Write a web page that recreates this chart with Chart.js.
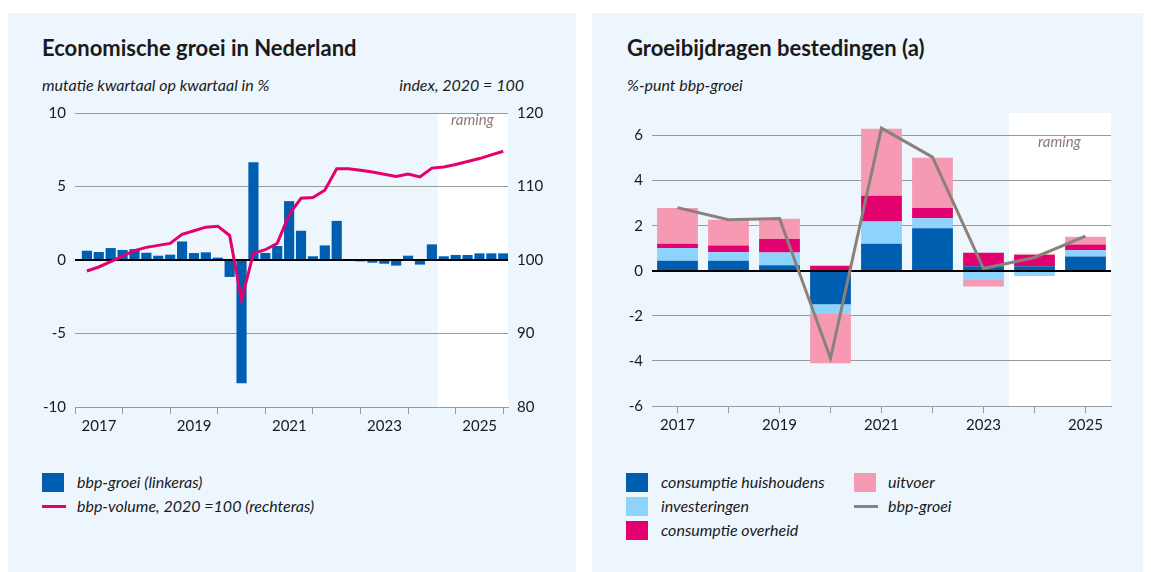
<!DOCTYPE html>
<html>
<head>
<meta charset="utf-8">
<title>Economische groei in Nederland</title>
<script src="https://cdn.jsdelivr.net/npm/chart.js@4"></script>
<style>
  body { margin: 0; width: 1151px; height: 572px; background: #fff; overflow: hidden;
         font-family: Lato, "Noto Sans", sans-serif; color: #1a1a1a; }
  .panel { position: absolute; top: 13px; height: 559px; background: #edf6fd; }
  .abs { position: absolute; white-space: nowrap; }
  .title { font-size: 22px; font-weight: bold; line-height: 26px; }
  .sub { font-size: 16px; font-style: italic; line-height: 18px; }
  .raming { font-size: 15px; font-style: italic; color: #8d7b76; line-height: 16px; }
  .leg { font-size: 16px; font-style: italic; line-height: 18px; }
  .sq { position: absolute; width: 22px; height: 19px; }
  .ln { position: absolute; width: 24px; height: 3px; }
  canvas { position: absolute; }
</style>
</head>
<body>
<div class="panel" style="left:8px; width:568px;"></div>
<div class="panel" style="left:592px; width:551px;"></div>

<div class="abs title" style="left:42px; top:35px;">Economische groei in Nederland</div>
<div class="abs sub" style="left:42px; top:76px;">mutatie kwartaal op kwartaal in %</div>
<div class="abs sub" style="right:627px; top:76px;">index, 2020 = 100</div>

<div class="abs title" style="left:627px; top:35px;">Groeibijdragen bestedingen (a)</div>
<div class="abs sub" style="left:627px; top:76px;">%-punt bbp-groei</div>

<canvas id="links" width="568" height="342" style="left:8px; top:95px;"></canvas>
<canvas id="rechts" width="551" height="341" style="left:592px; top:95px;"></canvas>

<div class="abs raming" style="left:451px; top:111px;">raming</div>
<div class="abs raming" style="left:1038px; top:133px;">raming</div>

<!-- legenda links -->
<div class="sq" style="left:42px; top:473px; background:#005eb0;"></div>
<div class="abs leg" style="left:77px; top:473px;">bbp-groei (linkeras)</div>
<div class="ln" style="left:42px; top:505px; background:#e3006f;"></div>
<div class="abs leg" style="left:77px; top:497px;">bbp-volume, 2020 =100 (rechteras)</div>

<!-- legenda rechts -->
<div class="sq" style="left:626px; top:473px; background:#005eb0;"></div>
<div class="abs leg" style="left:661px; top:473px;">consumptie huishoudens</div>
<div class="sq" style="left:626px; top:497px; background:#8dd3fc;"></div>
<div class="abs leg" style="left:661px; top:497px;">investeringen</div>
<div class="sq" style="left:626px; top:521px; background:#e3006f;"></div>
<div class="abs leg" style="left:661px; top:521px;">consumptie overheid</div>
<div class="sq" style="left:854px; top:473px; background:#f59ab2;"></div>
<div class="abs leg" style="left:888px; top:473px;">uitvoer</div>
<div class="ln" style="left:854px; top:505px; background:#8c807b;"></div>
<div class="abs leg" style="left:888px; top:497px;">bbp-groei</div>

<script>
// kwartaalcijfers 2017K1 t/m 2025K4
const bbpGroei = [0.61, 0.52, 0.79, 0.66, 0.72, 0.47, 0.27, 0.34, 1.24, 0.45, 0.50, 0.14,
                  -1.13, -8.36, 6.62, 0.46, 0.93, 3.98, 1.97, 0.23, 0.97, 2.64, 0.02, -0.07,
                  -0.16, -0.23, -0.36, 0.27, -0.29, 1.04, 0.23, 0.32, 0.32, 0.43, 0.43, 0.43];
const bbpVolume = [98.5, 99.05, 99.77, 100.54, 101.27, 101.72, 101.99, 102.26, 103.5, 103.98, 104.47, 104.6,
                   103.34, 94.6, 100.9, 101.4, 102.26, 106.2, 108.4, 108.5, 109.5, 112.4, 112.4, 112.2,
                   111.98, 111.66, 111.35, 111.7, 111.3, 112.5, 112.66, 113.0, 113.4, 113.8, 114.3, 114.8];
const jaarLabels = ['2017', '2019', '2021', '2023', '2025'];

// jaarcijfers
const jaren = ['2017', '2018', '2019', '2020', '2021', '2022', '2023', '2024', '2025'];
const consHuishoudens = [0.44, 0.44, 0.25, -1.48, 1.20, 1.89, 0.20, 0.20, 0.63];
const investeringen = [0.57, 0.38, 0.56, -0.40, 0.99, 0.44, -0.38, -0.23, 0.28];
const consOverheid = [0.19, 0.30, 0.60, 0.22, 1.14, 0.45, 0.60, 0.50, 0.26];
const uitvoer = [1.58, 1.14, 0.90, -2.22, 2.97, 2.23, -0.32, 0.06, 0.34];
const bbpGroeiJaar = [2.80, 2.26, 2.32, -3.88, 6.33, 5.04, 0.10, 0.59, 1.54];

const tickFont = { family: 'Lato, "Noto Sans", sans-serif', size: 15 };
const gridKleur = '#9a9a9a';

// witte achtergrond voor de raming + nullijn boven de staven
const ramingPlugin = {
  id: 'raming',
  beforeDraw(chart, args, opts) {
    const { ctx, chartArea, scales } = chart;
    const x0 = scales.x.getPixelForValue(opts.vanaf);
    ctx.save();
    ctx.fillStyle = '#ffffff';
    ctx.fillRect(x0, chartArea.top, chartArea.right - x0, chartArea.bottom - chartArea.top);
    ctx.restore();
  },
  beforeDatasetDraw(chart, args) {
    if (args.meta.type !== 'line') return;
    const { ctx, chartArea, scales } = chart;
    const y0 = Math.round(scales.y.getPixelForValue(0));
    ctx.save();
    ctx.strokeStyle = '#000';
    ctx.lineWidth = 2;
    ctx.beginPath();
    ctx.moveTo(chartArea.left, y0);
    ctx.lineTo(chartArea.right, y0);
    ctx.stroke();
    ctx.restore();
  }
};

new Chart(document.getElementById('links'), {
  type: 'bar',
  plugins: [ramingPlugin],
  data: {
    datasets: [
      {
        type: 'line',
        label: 'bbp-volume, 2020 =100 (rechteras)',
        data: bbpVolume.map((v, i) => ({ x: i + 1, y: v })),
        yAxisID: 'y2',
        borderColor: '#e3006f',
        borderWidth: 3,
        pointRadius: 0,
        tension: 0,
        order: 0
      },
      {
        label: 'bbp-groei (linkeras)',
        data: bbpGroei.map((v, i) => ({ x: i + 1, y: v })),
        backgroundColor: '#005eb0',
        barThickness: 9.5,
        order: 1
      }
    ]
  },
  options: {
    responsive: false,
    animation: false,
    layout: { padding: { top: 17, left: 0, right: 0, bottom: 0 } },
    plugins: { legend: { display: false }, tooltip: { enabled: false }, raming: { vanaf: 30.5 } },
    scales: {
      x: {
        type: 'linear', min: 0, max: 36.4, offset: false,
        afterBuildTicks: s => { s.ticks = [0, 4, 8, 12, 16, 20, 24, 28, 32, 36].map(v => ({ value: v })); },
        afterFit: s => { s.height = 30; },
        grid: { drawOnChartArea: false, offset: false, tickLength: 7, color: gridKleur },
        border: { color: gridKleur },
        ticks: {
          autoSkip: false, maxRotation: 0, labelOffset: 24, padding: 3,
          font: tickFont, color: '#1a1a1a',
          callback: v => (v % 8 === 0 && v < 36) ? jaarLabels[v / 8] : ''
        }
      },
      y: {
        min: -10, max: 10,
        afterFit: s => { s.width = 67; },
        border: { display: false },
        grid: { drawTicks: false, color: c => c.tick.value === 0 ? '#000' : gridKleur },
        ticks: { stepSize: 5, padding: 9, font: tickFont, color: '#1a1a1a' }
      },
      y2: {
        position: 'right', min: 80, max: 120,
        afterFit: s => { s.width = 68; },
        border: { display: false },
        grid: { drawOnChartArea: false, drawTicks: false },
        ticks: { stepSize: 10, padding: 9, font: tickFont, color: '#1a1a1a' }
      }
    }
  }
});

new Chart(document.getElementById('rechts'), {
  type: 'bar',
  plugins: [ramingPlugin],
  data: {
    labels: jaren,
    datasets: [
      {
        type: 'line', label: 'bbp-groei', data: bbpGroeiJaar, stack: 'lijn',
        borderColor: '#8c807b', borderWidth: 3, pointRadius: 0, tension: 0, order: 0
      },
      { label: 'consumptie huishoudens', data: consHuishoudens, backgroundColor: '#005eb0', stack: 'staaf', order: 1 },
      { label: 'investeringen', data: investeringen, backgroundColor: '#8dd3fc', stack: 'staaf', order: 1 },
      { label: 'consumptie overheid', data: consOverheid, backgroundColor: '#e3006f', stack: 'staaf', order: 1 },
      { label: 'uitvoer', data: uitvoer, backgroundColor: '#f59ab2', stack: 'staaf', order: 1 }
    ]
  },
  options: {
    responsive: false,
    animation: false,
    layout: { padding: { top: 17, left: 0, right: 32, bottom: 0 } },
    datasets: { bar: { categoryPercentage: 1, barPercentage: 0.8 } },
    plugins: { legend: { display: false }, tooltip: { enabled: false }, raming: { vanaf: 6.5 } },
    scales: {
      x: {
        stacked: true,
        afterFit: s => { s.height = 30; },
        grid: { drawOnChartArea: false, offset: false, tickLength: 7, color: gridKleur },
        border: { color: gridKleur },
        ticks: {
          autoSkip: false, maxRotation: 0, padding: 3, font: tickFont, color: '#1a1a1a',
          callback: (v, i) => i % 2 === 0 ? jaren[i] : ''
        }
      },
      y: {
        stacked: true, min: -6, max: 7,
        afterBuildTicks: s => { s.ticks = s.ticks.filter(t => t.value <= 6); },
        afterFit: s => { s.width = 60; },
        border: { display: false },
        grid: { drawTicks: false, color: c => c.tick.value === 0 ? '#000' : gridKleur },
        ticks: { stepSize: 2, padding: 9, font: tickFont, color: '#1a1a1a' }
      }
    }
  }
});
</script>
</body>
</html>
